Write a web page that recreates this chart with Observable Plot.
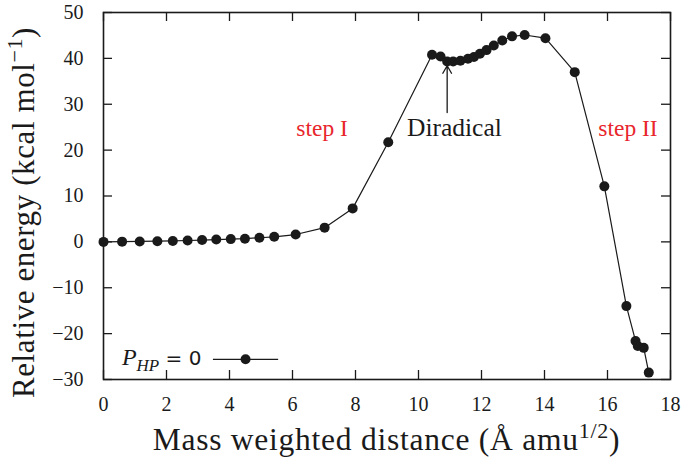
<!DOCTYPE html>
<html><head><meta charset="utf-8">
<script src="https://cdn.jsdelivr.net/npm/d3@7"></script>
<script src="https://cdn.jsdelivr.net/npm/@observablehq/plot@0.6"></script>
<style>
body{margin:0;background:#fff}
#chart svg, #chart svg g, #chart svg text {font-family: "Liberation Serif", "Times New Roman", serif !important;}
</style>
</head><body><div id="chart"></div>
<script>
// Data
const distance = [0, 0.59, 1.15, 1.71, 2.20, 2.67, 3.13, 3.58, 4.04, 4.49, 4.95, 5.42, 6.10, 7.02, 7.91, 9.04,
  10.43, 10.7, 10.91, 11.1, 11.33, 11.57, 11.76, 11.95, 12.16, 12.39, 12.66, 12.97, 13.37, 14.03, 14.96, 15.9,
  16.6, 16.89, 16.96, 17.15, 17.31];
const energy = [0, 0.05, 0.1, 0.15, 0.2, 0.3, 0.4, 0.5, 0.6, 0.7, 0.9, 1.1, 1.6, 3.1, 7.3, 21.7,
  40.8, 40.4, 39.3, 39.3, 39.5, 39.9, 40.3, 41.0, 41.8, 42.8, 43.9, 44.8, 45.1, 44.4, 37.0, 12.1,
  -14.0, -21.6, -22.7, -23.1, -28.5];
const xTicks = [0, 2, 4, 6, 8, 10, 12, 14, 16, 18];
const yTicks = [-30, -20, -10, 0, 10, 20, 30, 40, 50];
const stepLabels = ["step I", "step II"];
const stepX = [6.94, 16.65];
const stepY = [24.8, 24.8];
const diradicalLabel = "Diradical";
const diradicalX = 11.14, diradicalY = 24.8;
const arrowX = 10.91, arrowFrom = 28.2, arrowTo = 38.4;
const legendX = [3.49, 5.56], legendDotX = 4.51, legendY = -25.6;

const points = distance.map((d, i) => ({x: d, y: energy[i]}));
const W = 685, H = 460, mL = 103, mR = 15, mT = 12, mB = 81;
const pw = W - mL - mR, ph = H - mT - mB, tk = 9;
const FONT = "Liberation Serif";
const minus = d => d < 0 ? "\u2212" + (-d) : String(d);

const plot = Plot.plot({
  width: W, height: H, marginLeft: mL, marginRight: mR, marginTop: mT, marginBottom: mB,
  style: {fontFamily: FONT, fontSize: "20px", color: "#1a1a1a", background: "#fff"},
  x: {domain: [0, 18]},
  y: {domain: [-30, 50]},
  marks: [
    Plot.axisX(xTicks, {tickSize: 0, tickPadding: 17, label: null, fontSize: 20, fontFamily: FONT}),
    Plot.axisY(yTicks, {tickSize: 0, tickPadding: 20, label: null, fontSize: 20, fontFamily: FONT, tickFormat: minus}),
    Plot.tickX(xTicks, {x: d => d, insetTop: ph - tk, stroke: "#1a1a1a", strokeWidth: 1.3}),
    Plot.tickX(xTicks, {x: d => d, insetBottom: ph - tk, stroke: "#1a1a1a", strokeWidth: 1.3}),
    Plot.tickY(yTicks, {y: d => d, insetRight: pw - tk, stroke: "#1a1a1a", strokeWidth: 1.3}),
    Plot.tickY(yTicks, {y: d => d, insetLeft: pw - tk, stroke: "#1a1a1a", strokeWidth: 1.3}),
    Plot.frame({stroke: "#1a1a1a", strokeWidth: 1.6}),
    Plot.line(points, {x: "x", y: "y", stroke: "#1a1a1a", strokeWidth: 1.2}),
    Plot.dot(points, {x: "x", y: "y", r: 5, fill: "#1a1a1a", stroke: "none"}),
    Plot.text(stepLabels, {x: (d, i) => stepX[i], y: (d, i) => stepY[i], text: d => d, fill: "#e8262c", fontSize: 23.5, fontFamily: FONT}),
    Plot.text([diradicalLabel], {x: diradicalX, y: diradicalY, text: d => d, fill: "#1a1a1a", fontSize: 25.5, fontFamily: FONT}),
    Plot.arrow([0], {x1: arrowX, x2: arrowX, y1: arrowFrom, y2: arrowTo, stroke: "#1a1a1a", strokeWidth: 1.3, headLength: 10}),
    Plot.ruleY([legendY], {x1: legendX[0], x2: legendX[1], stroke: "#1a1a1a", strokeWidth: 1.2}),
    Plot.dot([0], {x: legendDotX, y: legendY, r: 5, fill: "#1a1a1a", stroke: "none"})
  ]
});
document.getElementById("chart").appendChild(plot);

const svg = d3.select(plot);
const xs = plot.scale("x"), ys = plot.scale("y");
// x axis title
const xt = svg.append("text").attr("x", (mL + W - mR) / 2).attr("y", 450)
  .attr("text-anchor", "middle").attr("font-size", 31.5).attr("letter-spacing", 0.75).attr("fill", "#1a1a1a");
xt.append("tspan").text("Mass weighted distance (\u00C5 amu");
xt.append("tspan").attr("font-size", 22).attr("dy", -12).text("1/2");
xt.append("tspan").attr("dy", 12).text(")");
// y axis title
const yt = svg.append("text").attr("transform", `translate(34,${(mT + H - mB) / 2 + 17}) rotate(-90)`)
  .attr("text-anchor", "middle").attr("font-size", 31).attr("letter-spacing", 0.6).attr("fill", "#1a1a1a");
yt.append("tspan").text("Relative energy (kcal mol");
yt.append("tspan").attr("font-size", 22).attr("dy", -12).text("\u22121");
yt.append("tspan").attr("dy", 12).text(")");
// legend label
const lt = svg.append("text").attr("x", xs.apply(0.6)).attr("y", ys.apply(legendY) + 6)
  .attr("text-anchor", "start").attr("font-size", 24).attr("fill", "#1a1a1a");
lt.append("tspan").attr("font-style", "italic").text("P");
lt.append("tspan").attr("font-style", "italic").attr("font-size", 17).attr("dy", 6).text("HP");
lt.append("tspan").attr("dy", -6).attr("style", "font-family: 'DejaVu Sans', sans-serif !important; font-size: 20px").text(" = 0");
</script>
</body></html>
